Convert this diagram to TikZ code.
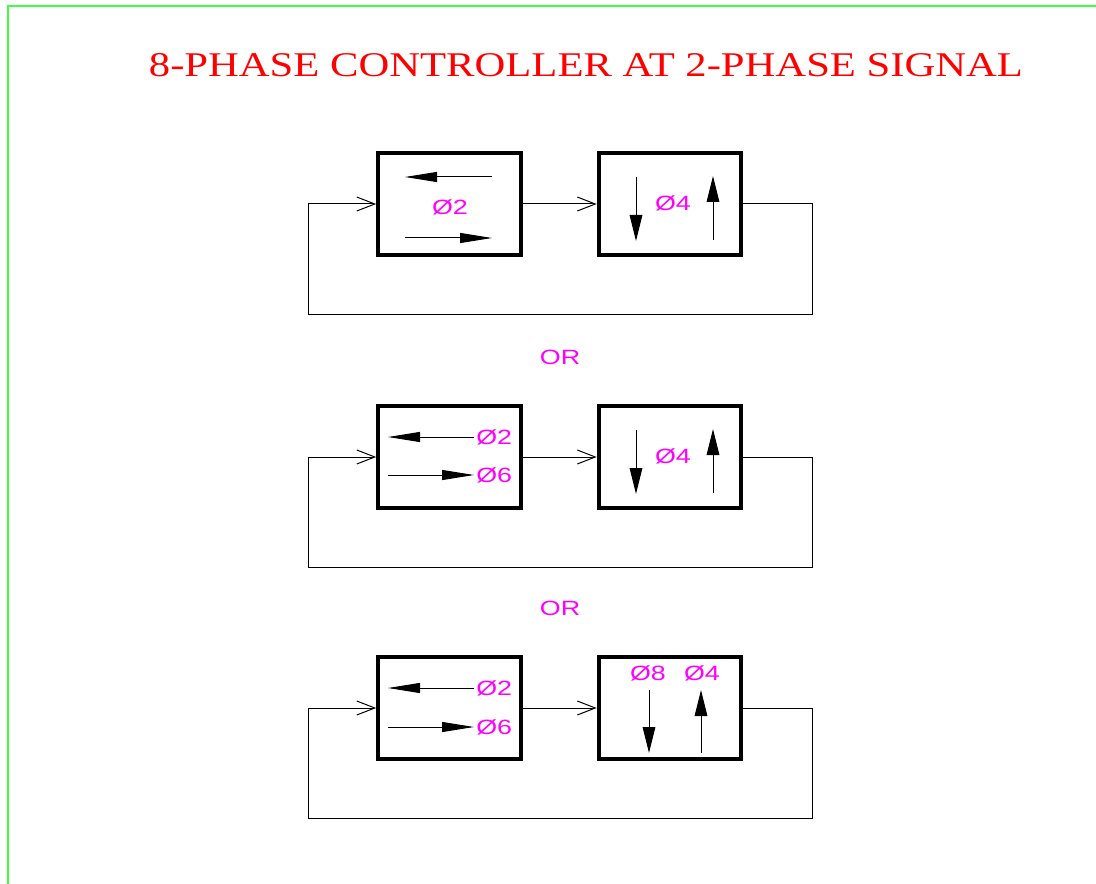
\documentclass[tikz,border=0pt]{standalone}
\usepackage{fontspec}
\usetikzlibrary{arrows.meta}
\newfontfamily\titlefont[FakeStretch=1.23]{Liberation Serif}
\newfontfamily\phasefont[FakeStretch=1.3]{Liberation Sans}
\definecolor{framegreen}{RGB}{64,255,64}
\definecolor{phasemag}{RGB}{255,0,255}
\definecolor{titlered}{RGB}{255,0,0}
\tikzset{
  blk/.style={draw, line width=3pt, minimum width=107pt, minimum height=77pt, inner sep=0pt},
  wire/.style={line width=0.75pt},
  sig/.style={wire, -{Straight Barb[length=13.5pt,width=10.5pt]}},
  harr/.style={wire, -{Triangle[length=24pt,width=7.5pt]}},
  varr/.style={wire, -{Triangle[length=19.5pt,width=9.5pt]}},
  phs/.style={text=phasemag, font=\phasefont\fontsize{15.5pt}{18pt}\selectfont, inner sep=1.5pt},
}
\begin{document}
\begin{tikzpicture}[x={(0.75pt,0)}, y={(0,-0.75pt)}]
    \useasboundingbox (0,0) rectangle (1096,884);
    \draw[framegreen, line width=1.5pt] (8,884) -- (8,6) -- (1096,6);
    \node[anchor=base, text=titlered, font=\titlefont\fontsize{26pt}{30pt}\selectfont, inner sep=0pt]
      (T) at (586,77) {8-PHASE CONTROLLER AT 2-PHASE SIGNAL};
    % first row
    \node[blk] (B1_0) at (449.5,204) {};
    \node[blk] (B1_1) at (670,204) {};
    \node[phs] (P1_2) at (450,207) {Ø2};
    \node[phs] (P1_4) at (673,203) {Ø4};
    \coordinate (K1_0) at (812,315);
    \coordinate (K1_1) at (308,315);
    \draw[sig] (B1_0) -- (B1_1);
    \draw[sig] (B1_1.east) -| (K1_0) -- (K1_1) |- (B1_0.west);
    \draw[harr] (492,177) -- (405,177);
    \draw[harr] (405,238) -- (492,238);
    \draw[varr] (636,177) -- (636,241);
    \draw[varr] (713,240) -- (713,176);
    \node[phs] (O1) at (560,357) {OR};
    % second row
    \node[blk] (B2_0) at (449.5,457) {};
    \node[blk] (B2_1) at (670,457) {};
    \node[phs, anchor=west] (P2_2) at (474,437) {Ø2};
    \node[phs, anchor=west] (P2_6) at (474,475) {Ø6};
    \node[phs] (P2_4) at (673,456) {Ø4};
    \coordinate (K2_0) at (812,567);
    \coordinate (K2_1) at (308,567);
    \draw[sig] (B2_0) -- (B2_1);
    \draw[sig] (B2_1.east) -| (K2_0) -- (K2_1) |- (B2_0.west);
    \draw[harr] (P2_2.west) -- (388,437);
    \draw[harr] (388,475) -- (P2_6.west);
    \draw[varr] (636,430) -- (636,494);
    \draw[varr] (713,493) -- (713,429);
    \node[phs] (O2) at (560,608) {OR};
    % third row
    \node[blk] (B3_0) at (449.5,708) {};
    \node[blk] (B3_1) at (670,708) {};
    \node[phs, anchor=west] (P3_2) at (474,688) {Ø2};
    \node[phs, anchor=west] (P3_6) at (474,727) {Ø6};
    \node[phs] (P3_8) at (648,673) {Ø8};
    \node[phs] (P3_4) at (702,673) {Ø4};
    \coordinate (K3_0) at (812,818);
    \coordinate (K3_1) at (308,818);
    \draw[sig] (B3_0) -- (B3_1);
    \draw[sig] (B3_1.east) -| (K3_0) -- (K3_1) |- (B3_0.west);
    \draw[harr] (P3_2.west) -- (388,688);
    \draw[harr] (388,727) -- (P3_6.west);
    \draw[varr] (649,690) -- (649,753);
    \draw[varr] (701,753) -- (701,690);
\end{tikzpicture}
\end{document}
